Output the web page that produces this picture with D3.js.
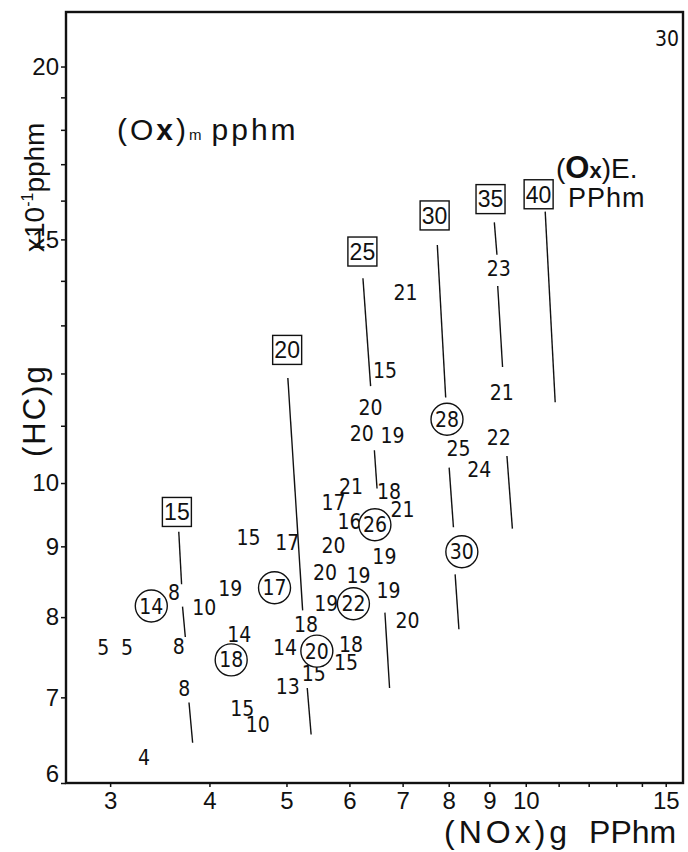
<!DOCTYPE html>
<meta charset="utf-8">
<style>
body { margin: 0; background: #fff; }
text { fill: #111; }
.lbl { font-family: "Liberation Sans Narrow", "DejaVu Sans Condensed", "Liberation Sans", sans-serif; font-size: 21px; }
.tick text { font-family: "Liberation Sans", sans-serif; font-size: 24px; fill: #111; }
.ttl { font-family: "Liberation Sans", sans-serif; }
</style>
<body>
<svg id="chart" width="688" height="852"></svg>
</body>
<script src="https://d3js.org/d3.v7.min.js"></script>
<script>

// (NOx)g vs (HC)g, both log scales
var xDomain = [2.64, 15.77],
    yDomain = [6.07, 21.9];

var xTicks = [3, 4, 5, 6, 7, 8, 9, 10, 11, 12, 13, 14, 15],
    xTickLabels = [3, 4, 5, 6, 7, 8, 9, 10, 15],
    yTicks = [6, 7, 8, 9, 10, 11, 12, 13, 14, 15, 16, 17, 18, 19, 20],
    yTickLabels = [6, 7, 8, 9, 10, 15, 20];

// measured (Ox)m values, plain numbers  [NOx, HC, value]
var plainPoints = [
  [15.06, 20.96, "30"], [9.25, 14.30, "23"], [7.06, 13.73, "21"],
  [6.65, 12.06, "15"], [6.38, 11.34, "20"], [6.22, 10.86, "20"], [6.80, 10.82, "19"],
  [9.33, 11.62, "21"], [9.25, 10.79, "22"], [8.23, 10.59, "25"], [8.74, 10.23, "24"],
  [6.03, 9.94, "21"], [5.73, 9.68, "17"], [6.73, 9.86, "18"], [7.00, 9.57, "21"],
  [6.00, 9.38, "16"], [5.73, 9.02, "20"], [6.64, 8.85, "19"], [5.59, 8.62, "20"],
  [6.16, 8.58, "19"], [5.61, 8.19, "19"], [6.72, 8.36, "19"], [7.10, 7.96, "20"],
  [5.29, 7.90, "18"], [6.03, 7.65, "18"], [5.94, 7.42, "15"], [5.41, 7.29, "15"],
  [4.98, 7.61, "14"], [5.02, 7.13, "13"], [4.48, 9.13, "15"], [5.01, 9.06, "17"],
  [4.25, 8.39, "19"], [3.94, 8.13, "10"], [3.61, 8.34, "8"], [3.66, 7.62, "8"],
  [4.36, 7.77, "14"], [3.72, 7.11, "8"], [4.40, 6.87, "15"], [4.60, 6.69, "10"],
  [3.31, 6.33, "4"], [2.94, 7.61, "5"], [3.15, 7.61, "5"]
];

// circled values
var circledPoints = [
  [3.38, 8.15, "14"], [4.83, 8.40, "17"], [4.26, 7.45, "18"], [5.46, 7.56, "20"],
  [6.07, 8.18, "22"], [6.46, 9.33, "26"], [7.96, 11.12, "28"], [8.31, 8.92, "30"]
];

// (Ox)E isolines: boxed labels and their segments
var boxedPoints = [
  [3.64, 9.53, "15"], [5.01, 12.48, "20"], [6.23, 14.70, "25"],
  [7.68, 15.61, "30"], [9.03, 16.04, "35"], [10.38, 16.17, "40"]
];

var isoSegments = [
  [3.66, 9.22, 3.69, 8.45], [3.70, 8.14, 3.73, 7.74], [3.77, 6.94, 3.81, 6.49],
  [5.02, 11.91, 5.24, 8.09], [5.31, 7.11, 5.37, 6.58],
  [6.24, 14.06, 6.38, 11.75], [6.45, 10.56, 6.50, 9.91], [6.65, 8.06, 6.74, 7.11],
  [7.74, 14.86, 7.93, 11.53], [8.01, 10.26, 8.11, 9.29], [8.15, 8.59, 8.24, 7.84],
  [9.13, 15.43, 9.20, 14.62], [9.22, 13.88, 9.35, 12.13], [9.47, 10.46, 9.62, 9.27],
  [10.58, 15.71, 10.89, 11.44]
];

var svg = d3.select("#chart"),
    margin = {top: 12, right: 5, bottom: 69, left: 66},
    width = +svg.attr("width") - margin.left - margin.right,
    height = +svg.attr("height") - margin.top - margin.bottom;

svg.append("rect").attr("width", 688).attr("height", 852).attr("fill", "#fff");

var g = svg.append("g").attr("transform", "translate(" + margin.left + "," + margin.top + ")");

var x = d3.scaleLog().domain(xDomain).range([0, width]);
var y = d3.scaleLog().domain(yDomain).range([height, 0]).clamp(true);

// axes
var xAxis = g.append("g")
    .attr("transform", "translate(0," + height + ")")
    .call(d3.axisBottom(x).tickValues(xTicks).tickSize(4).tickPadding(5)
      .tickFormat(function(d) { return xTickLabels.indexOf(d) >= 0 ? d : ""; }));
xAxis.select(".domain").remove();

var yAxis = g.append("g")
    .call(d3.axisLeft(y).tickValues(yTicks).tickSize(5).tickPadding(2)
      .tickFormat(function(d) { return yTickLabels.indexOf(d) >= 0 ? d : ""; }));
yAxis.select(".domain").remove();
yAxis.selectAll(".tick").filter(function(d) { return d === 6; }).select("text").attr("dy", "-0.05em");

g.selectAll(".tick line").attr("stroke", "#111").attr("stroke-width", 1.5);

// frame
g.append("rect")
    .attr("width", width).attr("height", height)
    .attr("fill", "none").attr("stroke", "#111").attr("stroke-width", 2.4);

// isolines
g.selectAll(".iso")
  .data(isoSegments)
  .enter().append("line")
    .attr("class", "iso")
    .attr("x1", function(d) { return x(d[0]); })
    .attr("y1", function(d) { return y(d[1]); })
    .attr("x2", function(d) { return x(d[2]); })
    .attr("y2", function(d) { return y(d[3]); })
    .attr("stroke", "#111").attr("stroke-width", 1.4);

// plain numbers
g.selectAll(".pt")
  .data(plainPoints)
  .enter().append("text")
    .attr("class", "lbl pt")
    .attr("x", function(d) { return x(d[0]); })
    .attr("y", function(d) { return y(d[1]); })
    .attr("dy", "0.36em")
    .attr("text-anchor", "middle")
    .text(function(d) { return d[2]; });

// circled numbers
var circ = g.selectAll(".circ")
  .data(circledPoints)
  .enter().append("g")
    .attr("class", "circ")
    .attr("transform", function(d) { return "translate(" + x(d[0]) + "," + y(d[1]) + ")"; });
circ.append("circle").attr("r", 16)
    .attr("fill", "#fff").attr("stroke", "#111").attr("stroke-width", 1.4);
circ.append("text").attr("class", "lbl")
    .attr("dy", "0.36em").attr("text-anchor", "middle")
    .text(function(d) { return d[2]; });

// boxed numbers
var box = g.selectAll(".box")
  .data(boxedPoints)
  .enter().append("g")
    .attr("class", "box")
    .attr("transform", function(d) { return "translate(" + x(d[0]) + "," + y(d[1]) + ")"; });
box.append("rect").attr("x", -14.5).attr("y", -14.5).attr("width", 29).attr("height", 29)
    .attr("fill", "#fff").attr("stroke", "#111").attr("stroke-width", 1.4);
box.append("text").attr("class", "ttl")
    .attr("dy", "0.36em").attr("text-anchor", "middle")
    .style("font-size", "23px")
    .text(function(d) { return d[2]; });

// annotations
var om = svg.append("text").attr("class", "ttl")
    .attr("x", 117).attr("y", 140)
    .style("font-size", "30px").style("letter-spacing", "3px");
om.append("tspan").text("(O");
om.append("tspan").style("font-weight", "bold").text("x");
om.append("tspan").text(")");
om.append("tspan").style("font-size", "15px").style("letter-spacing", "0px").text("m");
om.append("tspan").attr("dx", 10).text("pphm");

var oe = svg.append("text").attr("class", "ttl")
    .attr("x", 556).attr("y", 178)
    .style("font-size", "28px");
oe.append("tspan").text("(");
oe.append("tspan").style("font-weight", "bold").style("font-size", "31px").text("O");
oe.append("tspan").style("font-weight", "bold").style("font-size", "22px").text("x");
oe.append("tspan").text(")E.");

svg.append("text").attr("class", "ttl")
    .attr("x", 568).attr("y", 207)
    .style("font-size", "27px").style("letter-spacing", "1px")
    .text("PPhm");

// axis titles
var xt = svg.append("text").attr("class", "ttl")
    .attr("x", 444).attr("y", 843)
    .style("font-size", "32px");
xt.append("tspan").style("letter-spacing", "4px").text("(NOx)");
xt.append("tspan").text("g");
xt.append("tspan").attr("dx", 22).text("PPhm");

svg.append("text").attr("class", "ttl")
    .attr("transform", "translate(45,457) rotate(-90)")
    .style("font-size", "31px").style("letter-spacing", "2px")
    .text("(HC)g");

var yu = svg.append("text").attr("class", "ttl")
    .attr("transform", "translate(44,252) rotate(-90)")
    .style("font-size", "28px");
yu.append("tspan").text("x10");
yu.append("tspan").attr("dy", -11).style("font-size", "16px").text("-1");
yu.append("tspan").attr("dy", 11).text("pphm");

</script>
